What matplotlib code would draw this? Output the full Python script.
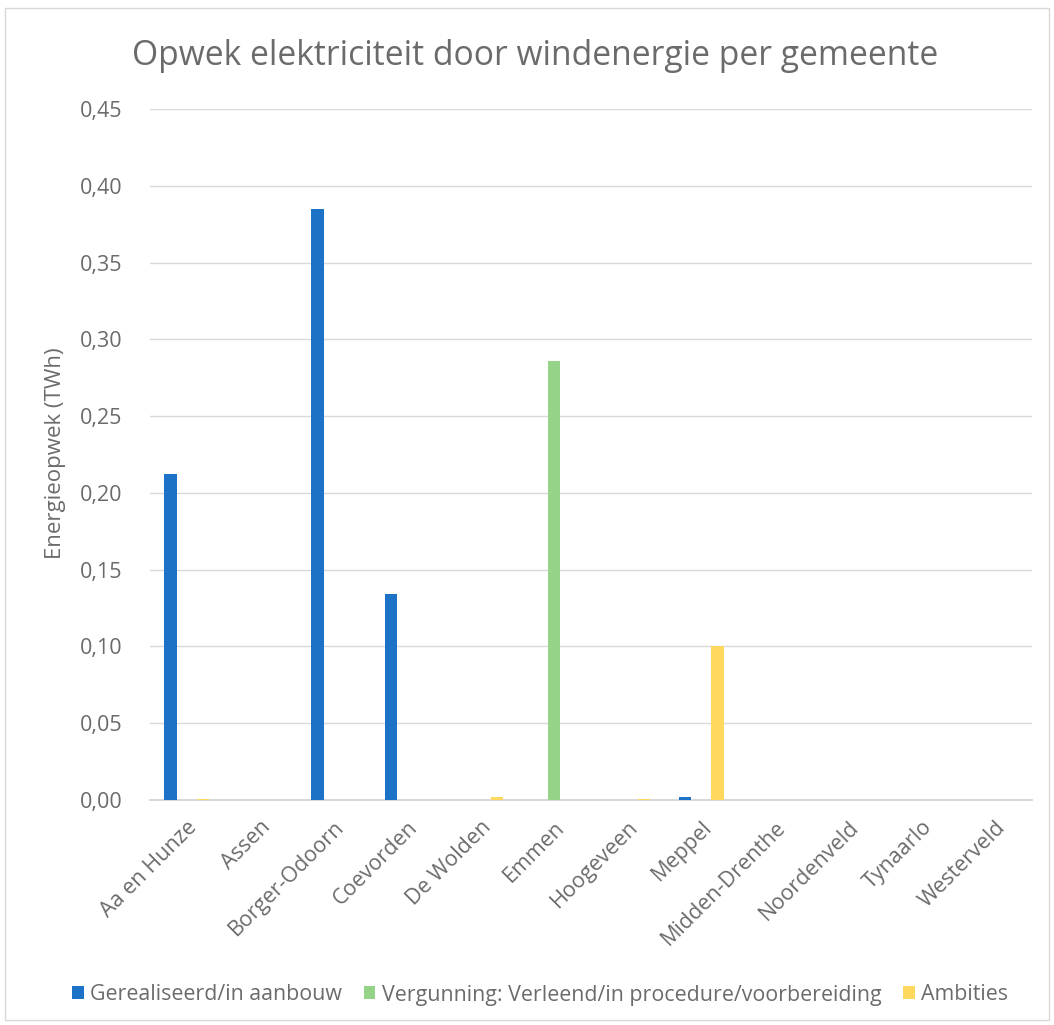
import matplotlib
matplotlib.use("Agg")
import matplotlib.pyplot as plt
import numpy as np
from matplotlib.ticker import FuncFormatter, MultipleLocator
from matplotlib.patches import Rectangle

categories = ["Aa en Hunze", "Assen", "Borger-Odoorn", "Coevorden", "De Wolden", "Emmen",
              "Hoogeveen", "Meppel", "Midden-Drenthe", "Noordenveld", "Tynaarlo", "Westerveld"]
gerealiseerd = [0.212, 0.0, 0.385, 0.134, 0.0, 0.0, 0.0, 0.002, 0.0, 0.0, 0.0, 0.0]
vergunning = [0.0, 0.0, 0.0, 0.0, 0.0, 0.286, 0.0, 0.0, 0.0, 0.0, 0.0, 0.0]
ambities = [0.0006, 0.0, 0.0, 0.0, 0.002, 0.0, 0.0006, 0.100, 0.0, 0.0, 0.0, 0.0]
series_names = ["Gerealiseerd/in aanbouw", "Vergunning: Verleend/in procedure/voorbereiding", "Ambities"]
colors = ["#1C72C6", "#95D389", "#FFD95E"]

plt.rcParams['font.family'] = ['Open Sans', 'DejaVu Sans']
text_color = "#6B6B6B"

W, H = 1054, 1025
fig = plt.figure(figsize=(W / 100, H / 100), dpi=100)
fig.patches.append(Rectangle((5 / W, 5 / H), 1 - 10 / W, 1 - 13 / H, transform=fig.transFigure,
                             fill=False, edgecolor="#D9D9D9", linewidth=1))
ax = fig.add_axes([150 / W, 1 - 800 / H, 882 / W, 691 / H])

x = np.arange(len(categories))
w = 0.17
step = 0.22
for i, (vals, name, c) in enumerate(zip([gerealiseerd, vergunning, ambities], series_names, colors)):
    ax.bar(x + (i - 1) * step, vals, width=w, color=c, label=name, zorder=3)

ax.set_xlim(-0.5, len(categories) - 0.5)
ax.set_ylim(0, 0.45)
ax.yaxis.set_major_locator(MultipleLocator(0.05))
ax.yaxis.set_major_formatter(FuncFormatter(lambda v, p: f"{v:.2f}".replace(".", ",")))
ax.grid(axis='y', color="#D9D9D9", linewidth=1, zorder=0)
for s in ["top", "right", "left"]:
    ax.spines[s].set_visible(False)
ax.spines["bottom"].set_color("#D9D9D9")
ax.spines["bottom"].set_linewidth(1.5)
ax.tick_params(axis='both', length=0, colors=text_color, labelsize=15.5)
ax.tick_params(axis='y', pad=20)
ax.set_xticks(x)
ax.set_xticklabels(categories, rotation=45, ha='right', rotation_mode='anchor')
ax.tick_params(axis='x', pad=12)

fig.text(56 / W, 1 - 453 / H, "Energieopwek (TWh)", rotation=90, ha='center', va='center',
         color=text_color, fontsize=16)

fig.text(535 / W, 1 - 65 / H, "Opwek elektriciteit door windenergie per gemeente", ha='center',
         va='baseline', fontsize=24.2, color=text_color)

leg = fig.legend(loc='center', bbox_to_anchor=(540 / W, 1 - 995 / H), ncol=3, frameon=False,
                 fontsize=15.4, handlelength=0.55, handleheight=0.55, handletextpad=0.3,
                 columnspacing=1.0)
for t in leg.get_texts():
    t.set_color(text_color)

fig.savefig("out.png", dpi=100, facecolor="white")
